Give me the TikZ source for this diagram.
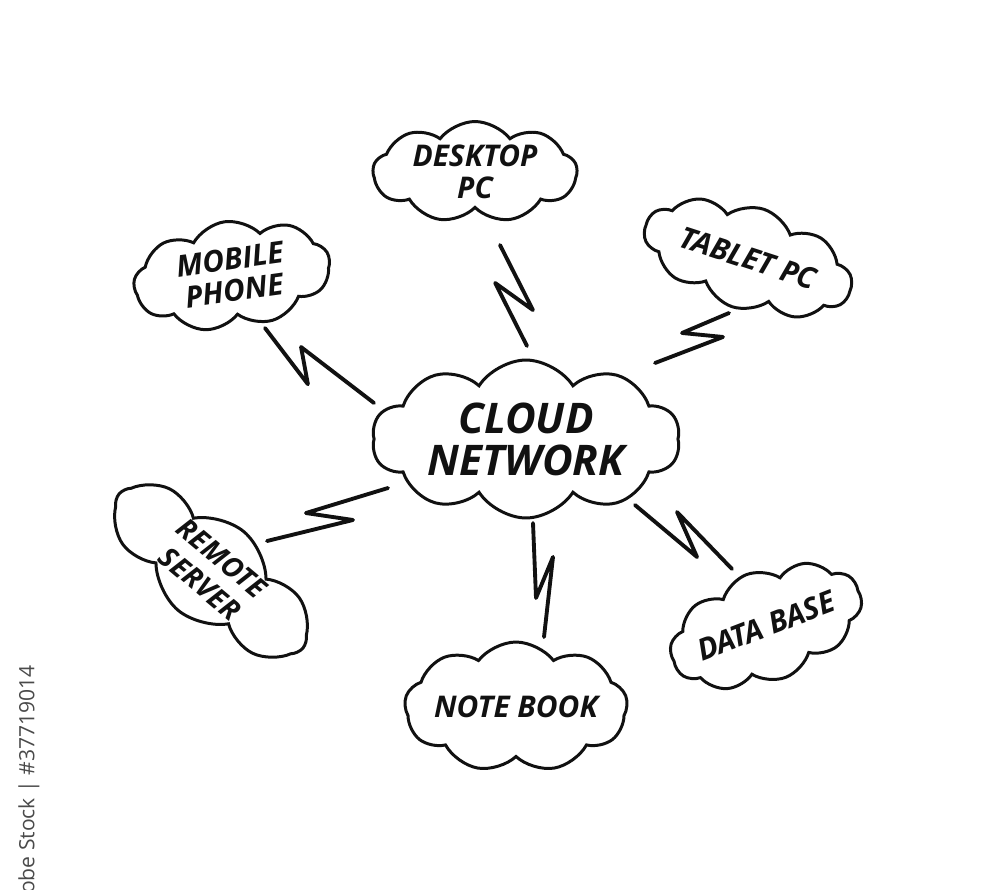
\documentclass[tikz,border=0pt]{standalone}
\usepackage{fontspec}
\setmainfont{Open Sans}
\usetikzlibrary{calc,shapes.symbols}
\definecolor{inkC}{HTML}{111111}
\definecolor{stampC}{HTML}{4A4A4A}
\tikzset{
  blob/.style={cloud, draw=inkC, line width=1.7pt, cloud ignores aspect, cloud puff arc=105,
               align=center, inner sep=0pt, text=inkC,
               font=\fontsize{17}{18}\selectfont\bfseries\itshape},
  big/.style={blob, font=\fontsize{24}{24}\selectfont\bfseries\itshape},
  bolt/.style n args={4}{draw=inkC, line width=2.2pt, line join=round, line cap=round,
    to path={-- ($(\tikztostart)!#1!(\tikztotarget)!#2!90:(\tikztotarget)$)
             -- ($(\tikztostart)!#3!(\tikztotarget)!#4!90:(\tikztotarget)$) -- (\tikztotarget)}},
  stamp/.style={font=\fontsize{12}{12}\selectfont, text=stampC, inner sep=0pt},
}

\begin{document}
\begin{tikzpicture}[x=0.02cm, y=-0.02cm]
\useasboundingbox[fill=white] (0,0) rectangle (1000,889);
\node[big, cloud puffs=10, cloud puff arc=115, minimum width=6.16cm, minimum height=3.16cm] (net) at (526,439) {CLOUD\\NETWORK};
\node[blob, cloud puffs=9, minimum width=4.08cm, minimum height=1.98cm] (desk) at (475,172) {DESKTOP\\PC};
\node[blob, cloud puffs=10, rotate=-18, minimum width=4.3cm, minimum height=2.05cm] (tab) at (748,258) {TABLET PC};
\node[blob, cloud puffs=9, rotate=8, minimum width=3.95cm, minimum height=2.15cm] (mob) at (232,275) {MOBILE\\PHONE};
\node[blob, cloud puffs=8, cloud puff arc=100, rotate=-40, minimum width=4.8cm, minimum height=2.05cm,
      font=\fontsize{16}{19}\selectfont\bfseries\itshape] (rem) at (211,571) {REMOTE\\SERVER};
\node[blob, cloud puffs=9, minimum width=4.34cm, minimum height=2.6cm] (nb) at (516,707) {NOTE BOOK};
\node[blob, cloud puffs=10, rotate=21, minimum width=3.95cm, minimum height=2.2cm] (db) at (766,626) {DATA BASE};
% bolt ends
\coordinate (deskA) at (500,245); \coordinate (deskB) at (527,346);
\coordinate (tabA) at (729,313);  \coordinate (tabB) at (655,363);
\coordinate (mobA) at (265,328);  \coordinate (mobB) at (374,403);
\coordinate (remA) at (388,488);  \coordinate (remB) at (267,541);
\coordinate (nbA) at (533,523);   \coordinate (nbB) at (544,637);
\coordinate (dbA) at (635,505);   \coordinate (dbB) at (732,569);
\draw[bolt={0.682}{0.30cm}{0.339}{-0.29cm}] (deskA) to (deskB);
\draw[bolt={0.561}{-0.195cm}{0.206}{0.33cm}] (tabA) to (tabB);
\draw[bolt={0.508}{-0.44cm}{0.306}{0.095cm}] (mobA) to (mobB);
\draw[bolt={0.645}{-0.2cm}{0.34}{0.305cm}] (remA) to (remB);
\draw[bolt={0.654}{-0.084cm}{0.312}{0.333cm}] (nbA) to (nbB);
\draw[bolt={0.692}{-0.185cm}{0.335}{0.346cm}] (dbA) to (dbB);
\begin{scope}
\clip (0,0) rectangle (1000,889);
\node[stamp, rotate=90, anchor=east] (id) at (29,665) {Adobe Stock | \#37719014};
\end{scope}
\end{tikzpicture}
\end{document}
